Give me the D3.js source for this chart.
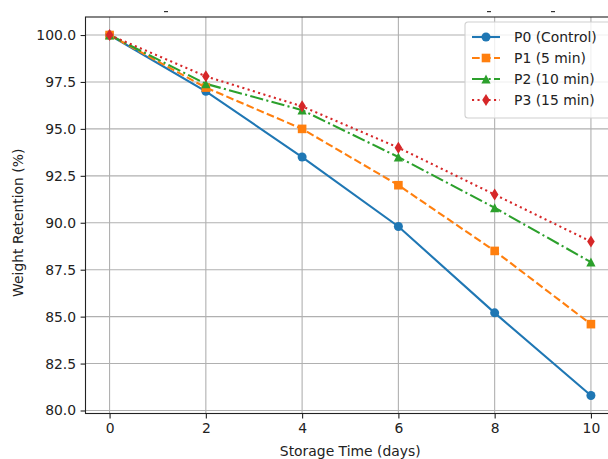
<!DOCTYPE html>
<html>
<head>
<meta charset="utf-8">
<script src="https://cdn.jsdelivr.net/npm/d3@7"></script>
<style>
  body { margin: 0; background: #fff; }
  svg { display: block; font-family: "DejaVu Sans", sans-serif; }
</style>
</head>
<body>
<div id="chart"></div>
<script>
// storage days and weight retention (%) per treatment
const days = [0, 2, 4, 6, 8, 10];
const p0 = [100, 97.0, 93.5, 89.8, 85.2, 80.8];
const p1 = [100, 97.2, 95.0, 92.0, 88.5, 84.6];
const p2 = [100, 97.4, 96.0, 93.5, 90.8, 87.9];
const p3 = [100, 97.8, 96.2, 94.0, 91.5, 89.0];
const seriesNames = ["P0 (Control)", "P1 (5 min)", "P2 (10 min)", "P3 (15 min)"];
const xTicks = [0, 2, 4, 6, 8, 10];
const yTicks = [80, 82.5, 85, 87.5, 90, 92.5, 95, 97.5, 100];

const colors = ["#1f77b4", "#ff7f0e", "#2ca02c", "#d62728"];
const dashes = [null, "7.7,3.3", "13.3,3.3,2.1,3.3", "2.1,3.4"];
const markers = ["circle", "square", "triangle", "diamond"];

const series = [p0, p1, p2, p3].map((vals, i) => ({
    name: seriesNames[i],
    values: vals.map((v, j) => ({ day: days[j], val: v }))
}));

const W = 608, H = 459;
const margin = { top: 17, right: -7, bottom: 45.5, left: 85.5 };
const width = W - margin.left - margin.right;
const height = H - margin.top - margin.bottom;

const svg = d3.select("#chart").append("svg")
    .attr("width", W)
    .attr("height", H);

// bits of a title cut off by the crop at the top edge
svg.append("g").selectAll("rect")
    .data([164, 487, 551]).enter().append("rect")
    .attr("x", d => d).attr("y", 11)
    .attr("width", 4).attr("height", 1.2)
    .attr("fill", "#333");

const g = svg.append("g")
    .attr("transform", "translate(" + margin.left + "," + margin.top + ")");

// scales (matplotlib style 5% padding)
const x = d3.scaleLinear().domain([-0.5, 10.5]).range([0, width]);
const y = d3.scaleLinear().domain([79.84, 100.96]).range([height, 0]);

// grid
g.append("g").selectAll("line.vg")
    .data(xTicks).enter().append("line")
    .attr("x1", d => x(d)).attr("x2", d => x(d))
    .attr("y1", 0).attr("y2", height)
    .attr("stroke", "#b0b0b0").attr("stroke-width", 1.1);

g.append("g").selectAll("line.hg")
    .data(yTicks).enter().append("line")
    .attr("y1", d => y(d)).attr("y2", d => y(d))
    .attr("x1", 0).attr("x2", width)
    .attr("stroke", "#b0b0b0").attr("stroke-width", 1.1);

// axes
const xAxis = d3.axisBottom(x).tickValues(xTicks).tickSize(4.9).tickPadding(4.5).tickSizeOuter(0);
const yAxis = d3.axisLeft(y).tickValues(yTicks).tickFormat(d3.format(".1f")).tickSize(4.9).tickPadding(4.5).tickSizeOuter(0);

g.append("g")
    .attr("class", "x-axis axis")
    .attr("transform", "translate(0," + height + ")")
    .call(xAxis);

g.append("g")
    .attr("class", "y-axis axis")
    .call(yAxis);

g.selectAll(".axis text")
    .style("font-family", "DejaVu Sans, sans-serif")
    .style("font-size", "13.9px")
    .style("fill", "#222");
g.selectAll(".axis line").attr("stroke", "#222").attr("stroke-width", 1.1);
g.selectAll(".axis path").remove();

// spines
g.append("rect")
    .attr("width", width)
    .attr("height", height)
    .attr("fill", "none")
    .attr("stroke", "#222")
    .attr("stroke-width", 1.1);

// lines
const line = d3.line()
    .x(d => x(d.day))
    .y(d => y(d.val));

g.selectAll(".series-line")
    .data(series).enter().append("path")
    .attr("class", "series-line")
    .attr("d", d => line(d.values))
    .attr("fill", "none")
    .attr("stroke", (d, i) => colors[i])
    .attr("stroke-width", 2.1)
    .attr("stroke-dasharray", (d, i) => dashes[i]);

// marker drawing helper
function drawMarker(sel, type, color) {
    if (type === "circle") {
        sel.append("circle").attr("r", 4.5).attr("fill", color);
    } else if (type === "square") {
        sel.append("rect").attr("x", -4.3).attr("y", -4.3)
            .attr("width", 8.6).attr("height", 8.6).attr("fill", color);
    } else if (type === "triangle") {
        sel.append("path").attr("d", "M0,-4.6L4.6,4.4L-4.6,4.4Z").attr("fill", color);
    } else {
        sel.append("path").attr("d", "M0,-6L3.8,0L0,6L-3.8,0Z").attr("fill", color);
    }
}

series.forEach((s, i) => {
    s.values.forEach(v => {
        const m = g.append("g")
            .attr("transform", "translate(" + x(v.day) + "," + y(v.val) + ")");
        drawMarker(m, markers[i], colors[i]);
    });
});

// axis labels
svg.append("text")
    .attr("x", margin.left + x(5))
    .attr("y", 456)
    .style("text-anchor", "middle")
    .style("font-size", "13.9px")
    .style("fill", "#222")
    .text("Storage Time (days)");

svg.append("text")
    .attr("transform", "rotate(-90)")
    .attr("x", -(margin.top + y(90)))
    .attr("y", 23)
    .style("text-anchor", "middle")
    .style("font-size", "13.9px")
    .style("fill", "#222")
    .text("Weight Retention (%)");

// legend
const legend = svg.append("g")
    .attr("class", "legend-group")
    .attr("transform", "translate(465,22)");

legend.append("rect")
    .attr("width", 150)
    .attr("height", 96)
    .attr("rx", 3)
    .attr("fill", "#fff")
    .attr("fill-opacity", 0.8)
    .attr("stroke", "#d0d0d0")
    .attr("stroke-width", 1.1);

series.forEach((s, i) => {
    const item = legend.append("g")
        .attr("transform", "translate(0," + (15 + i * 21) + ")");
    item.append("line")
        .attr("x1", 7).attr("x2", 35)
        .attr("stroke", colors[i])
        .attr("stroke-width", 2.1)
        .attr("stroke-dasharray", dashes[i]);
    const m = item.append("g").attr("transform", "translate(21,0)");
    drawMarker(m, markers[i], colors[i]);
    item.append("text")
        .attr("x", 49)
        .attr("y", 5)
        .style("font-size", "13.9px")
        .style("fill", "#222")
        .text(s.name);
});
</script>
</body>
</html>
